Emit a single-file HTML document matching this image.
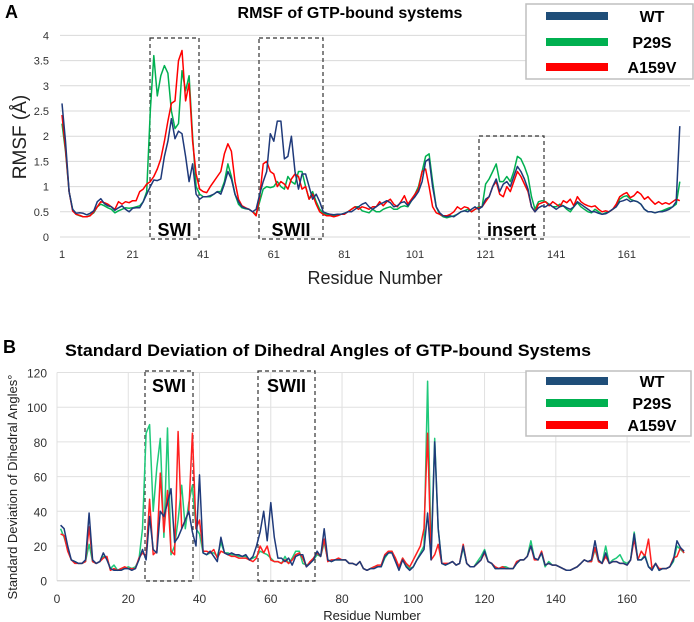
<!DOCTYPE html>
<html><head><meta charset="utf-8"><style>
body{margin:0;background:#fff;width:694px;height:622px;overflow:hidden;font-family:"Liberation Sans",sans-serif}
svg{display:block}
</style></head><body>
<svg id="fig" width="694" height="622" viewBox="0 0 694 622" xmlns="http://www.w3.org/2000/svg" font-family="Liberation Sans, sans-serif">
<g id="panelA"></g>
<g id="panelB"></g>
</svg>
<script>
// ---------- Panel A data ----------
const rmsfTicks = [0,0.5,1,1.5,2,2.5,3,3.5,4];
const rmsfTickLabels = ["0","0.5","1","1.5","2","2.5","3","3.5","4"];
const rmsfXTicks = [1,21,41,61,81,101,121,141,161];
const rmsfWT = [2.65,1.9,0.9,0.55,0.47,0.48,0.47,0.44,0.47,0.52,
0.7,0.76,0.66,0.62,0.6,0.53,0.58,0.62,0.55,0.5,
0.57,0.58,0.58,0.7,0.85,1.0,1.13,1.12,1.15,1.6,
1.9,2.35,1.95,2.1,2.05,1.6,1.1,1.45,0.85,0.75,
0.8,0.8,0.82,0.85,0.9,0.85,1.05,1.3,1.15,0.85,
0.7,0.6,0.57,0.55,0.5,0.55,0.85,1.1,1.3,2.05,
1.9,2.3,2.3,1.55,1.6,2.0,1.3,0.95,1.25,1.25,
1.0,0.75,0.85,0.7,0.5,0.47,0.45,0.44,0.45,0.45,
0.47,0.5,0.5,0.55,0.6,0.65,0.68,0.6,0.55,0.6,
0.65,0.68,0.72,0.68,0.6,0.62,0.68,0.7,0.62,0.72,
0.8,0.9,1.1,1.5,1.55,1.0,0.6,0.48,0.42,0.4,
0.42,0.4,0.45,0.5,0.52,0.5,0.55,0.6,0.55,0.6,
0.75,0.8,1.0,1.15,0.9,1.05,1.1,1.0,1.2,1.4,
1.3,1.15,0.95,0.6,0.5,0.58,0.62,0.6,0.65,0.6,
0.55,0.6,0.62,0.58,0.55,0.6,0.7,0.65,0.6,0.55,
0.5,0.5,0.47,0.45,0.46,0.5,0.55,0.6,0.7,0.72,
0.75,0.7,0.72,0.7,0.65,0.55,0.5,0.5,0.48,0.5,
0.5,0.52,0.55,0.6,0.7,2.2];
const rmsfP29S = [2.25,1.7,0.9,0.55,0.45,0.42,0.4,0.4,0.43,0.48,
0.6,0.65,0.62,0.58,0.55,0.48,0.52,0.55,0.58,0.57,
0.58,0.6,0.62,0.7,0.9,2.5,3.6,2.8,3.2,3.4,
3.25,2.5,2.15,2.25,3.3,2.9,3.2,2.0,1.0,0.85,
0.8,0.8,0.8,0.85,0.9,0.9,1.1,1.45,1.2,0.85,
0.65,0.58,0.56,0.55,0.5,0.45,0.7,0.95,1.0,0.98,
1.0,1.1,1.0,0.95,1.2,1.1,1.05,1.3,1.3,1.0,
0.75,0.9,0.7,0.55,0.47,0.45,0.43,0.42,0.42,0.45,
0.47,0.5,0.55,0.6,0.6,0.52,0.5,0.48,0.55,0.5,
0.5,0.55,0.58,0.6,0.55,0.55,0.6,0.62,0.6,0.72,
0.85,1.0,1.3,1.6,1.65,1.1,0.6,0.45,0.4,0.38,
0.4,0.42,0.45,0.5,0.52,0.55,0.5,0.55,0.6,0.6,
1.05,1.15,1.3,1.45,1.1,1.1,1.2,1.1,1.3,1.6,
1.55,1.4,1.2,0.8,0.55,0.7,0.72,0.7,0.65,0.6,
0.6,0.65,0.62,0.55,0.5,0.6,0.68,0.6,0.55,0.5,
0.48,0.55,0.5,0.45,0.48,0.5,0.55,0.6,0.75,0.8,
0.82,0.75,0.72,0.7,0.65,0.55,0.5,0.5,0.48,0.5,
0.52,0.55,0.58,0.6,0.65,1.1];
const rmsfA159V = [2.42,1.75,0.9,0.52,0.45,0.43,0.4,0.4,0.42,0.5,
0.6,0.7,0.68,0.65,0.6,0.55,0.7,0.65,0.7,0.68,
0.72,0.72,0.9,0.95,1.05,1.1,1.2,1.35,1.55,1.9,
2.3,2.65,2.7,3.5,3.7,2.7,3.05,1.9,1.25,0.95,
0.9,0.88,1.0,1.1,1.2,1.3,1.65,1.85,1.7,1.1,
0.75,0.62,0.58,0.55,0.5,0.42,0.8,1.45,1.5,1.3,
1.25,1.0,1.1,1.05,0.95,1.15,1.25,1.2,0.95,1.0,
0.75,0.85,0.65,0.5,0.45,0.42,0.42,0.4,0.42,0.45,
0.45,0.5,0.55,0.6,0.55,0.6,0.58,0.55,0.6,0.6,
0.7,0.62,0.7,0.75,0.65,0.6,0.7,0.82,0.65,0.75,
0.85,0.95,1.3,1.35,1.0,0.6,0.48,0.45,0.42,0.42,
0.45,0.5,0.6,0.55,0.6,0.58,0.5,0.55,0.58,0.6,
0.7,0.8,1.0,1.1,0.85,0.8,1.0,0.9,1.1,1.3,
1.2,1.05,0.9,0.6,0.5,0.65,0.68,0.7,0.62,0.7,
0.65,0.6,0.72,0.68,0.75,0.62,0.8,0.7,0.65,0.62,
0.6,0.62,0.55,0.5,0.52,0.5,0.55,0.65,0.8,0.85,
0.88,0.78,0.82,0.9,0.85,0.75,0.8,0.72,0.65,0.7,
0.65,0.68,0.65,0.7,0.75,0.72];

// ---------- Panel B data ----------
const sdTicks = [0,20,40,60,80,100,120];
const sdXTicks = [0,20,40,60,80,100,120,140,160];
const sdWT = [32,30,20,12,11,10,10,12,39,12,
10,11,16,12,7,6,6,6,7,7,
6,7,12,18,12,37,18,16,40,37,
45,53,22,25,30,35,40,28,20,61,
16,15,17,14,11,25,16,15,16,15,
15,14,15,12,14,20,28,40,23,45,
25,13,13,11,13,9,14,15,15,8,
10,12,17,14,30,12,11,12,12,12,
12,10,10,9,11,7,6,7,7,8,
8,14,16,16,11,6,12,8,6,8,
12,15,18,39,12,80,30,10,9,10,
11,9,10,20,10,8,8,10,12,17,
11,10,7,7,7,7,7,7,10,12,
12,14,20,13,12,16,9,10,9,9,
8,7,6,6,7,8,10,12,11,12,
23,12,10,16,10,11,11,10,10,9,
12,27,12,12,14,8,6,10,6,7,
7,8,12,23,19,17];
const sdP29S = [30,25,18,12,11,10,10,11,21,11,
10,11,14,13,7,9,6,7,7,8,
7,8,12,30,85,90,40,65,82,25,
88,15,20,35,55,30,45,55,30,27,
16,15,16,16,14,22,16,16,15,15,
14,14,14,12,13,14,17,16,15,13,
11,11,10,14,10,13,17,17,10,9,
10,12,15,14,22,12,11,12,12,12,
12,10,10,9,11,7,6,7,8,8,
8,13,16,17,12,7,13,9,7,8,
12,16,20,115,15,82,30,10,9,10,
11,9,10,19,10,8,8,11,14,18,
11,10,7,7,8,8,7,7,10,12,
12,14,23,13,12,16,8,11,9,9,
8,7,6,6,7,8,10,12,11,11,
18,11,10,20,10,12,13,15,11,10,
12,28,12,12,15,8,7,10,6,7,
7,8,11,20,18,16];
const sdA159V = [27,26,17,12,10,10,10,11,31,11,
10,11,13,14,6,7,6,7,8,7,
7,7,13,16,14,47,15,17,62,28,
52,17,15,86,30,35,40,85,30,35,
17,17,16,18,13,17,16,15,14,14,
13,13,13,12,11,13,20,16,20,12,
11,11,10,12,10,12,15,16,13,8,
11,13,16,14,24,11,12,12,13,12,
12,10,10,9,11,7,6,7,8,9,
9,15,17,17,13,8,13,10,8,12,
16,20,30,85,12,15,21,10,10,10,
11,9,10,21,10,8,8,10,12,16,
11,10,8,7,8,7,7,7,11,12,
12,14,20,12,12,17,9,10,9,9,
8,7,6,6,7,8,10,12,11,11,
19,11,10,14,10,11,11,10,10,9,
12,24,12,17,14,24,7,10,7,7,
7,8,13,14,19,16];

const NS="http://www.w3.org/2000/svg";
function mk(parent, tag, attrs, text){
  const e=document.createElementNS(NS,tag);
  for(const k in attrs) e.setAttribute(k,attrs[k]);
  if(text!==undefined) e.textContent=text;
  parent.appendChild(e); return e;
}
const A=document.getElementById('panelA');
const B=document.getElementById('panelB');

// ---------- Panel A ----------
const ax = r => 62 + (r-1)*3.53;
const ay = v => 237 - v*50.4;
let t;
t=mk(A,'text',{x:5,y:18,'font-size':18,'font-weight':'bold'},'A');


t=mk(A,'text',{x:350,y:18,'font-size':16,'font-weight':'bold','text-anchor':'middle'},'RMSF of GTP-bound systems');


rmsfTicks.forEach((v,i)=>{
  const g=mk(A,'line',{x1:60,x2:690,y1:ay(v),y2:ay(v),stroke:'#d9d9d9','stroke-width':1});
  
  
  const l=mk(A,'text',{x:49,y:ay(v)+4,'font-size':11,'text-anchor':'end',fill:'#333'},rmsfTickLabels[i]);
  
  
});
rmsfXTicks.forEach(r=>{
  const l=mk(A,'text',{x:ax(r),y:258,'font-size':11,'text-anchor':'middle',fill:'#333'},String(r));
  
  
});
t=mk(A,'text',{x:375,y:284,'font-size':18,'text-anchor':'middle',fill:'#222'},'Residue  Number');


t=mk(A,'text',{x:0,y:0,'font-size':19,'text-anchor':'middle',fill:'#222',transform:'translate(26,137) rotate(-90)'},'RMSF (Å)');



function region(parent,x1,x2,y1,y2,label,ly,name){
  const r=mk(parent,'rect',{x:x1,y:y1,width:x2-x1,height:y2-y1,fill:'none',stroke:'#333','stroke-width':1.2,'stroke-dasharray':'4,3'});
  
  
  const l=mk(parent,'text',{x:(x1+x2)/2,y:ly,'font-size':18,'font-weight':'bold','text-anchor':'middle'},label);
  
  
}
region(A,150,199,38,239,'SWI',236,'a-swi');
region(A,259,323,38,239,'SWII',236,'a-swii');
region(A,479,544,136,239,'insert',236,'a-insert');

function series(parent,data,xf,yf,color,start,name){
  const pts=data.map((v,i)=>xf(i+start).toFixed(1)+','+yf(v).toFixed(1)).join(' ');
  const p=mk(parent,'polyline',{points:pts,fill:'none',stroke:color,'stroke-width':1.5,'stroke-linejoin':'round'});
  
  
}
series(A,rmsfP29S,ax,ay,'#00b050',1,'a-line-p29s');
series(A,rmsfA159V,ax,ay,'#ff0000',1,'a-line-a159v');
series(A,rmsfWT,ax,ay,'#1f3a7a',1,'a-line-wt');

function legend(parent,x,y,w,h,rows,name){
  const g=mk(parent,'g',{});
  
  
  const r=mk(g,'rect',{x:x,y:y,width:w,height:h,fill:'#fff',stroke:'#bfbfbf','stroke-width':1.5});
  
  
  rows.forEach(rw=>{
    const s=mk(g,'rect',{x:x+20,y:rw[2]-4,width:62,height:8,fill:rw[1]});
    
    
    const l=mk(g,'text',{x:x+126,y:rw[2]+6,'font-size':16,'font-weight':'bold','text-anchor':'middle'},rw[0]);
    
    
  });
}
legend(A,526,4,167,75,[['WT','#1f4e79',16],['P29S','#00b050',42],['A159V','#ff0000',67]],'a-legend');

// ---------- Panel B ----------
const bx = r => 57 + r*3.563;
const by = v => 580.7 - v*1.735;
t=mk(B,'text',{x:3,y:353,'font-size':18,'font-weight':'bold'},'B');


t=mk(B,'text',{x:65,y:356,'font-size':17,'font-weight':'bold',textLength:526,lengthAdjust:'spacingAndGlyphs'},'Standard Deviation of Dihedral Angles of GTP-bound Systems');


sdTicks.forEach(v=>{
  const g=mk(B,'line',{x1:57,x2:690,y1:by(v),y2:by(v),stroke:'#e0e0e0','stroke-width':1});
  
  
  const l=mk(B,'text',{x:47,y:by(v)+5,'font-size':12,'text-anchor':'end',fill:'#333'},String(v));
  
  
});
sdXTicks.forEach(r=>{
  const g=mk(B,'line',{x1:bx(r),x2:bx(r),y1:by(120),y2:by(0),stroke:'#e0e0e0','stroke-width':1});
  
  
  const l=mk(B,'text',{x:bx(r),y:603,'font-size':12,'text-anchor':'middle',fill:'#333'},String(r));
  
  
});
t=mk(B,'line',{x1:57,x2:690,y1:by(0),y2:by(0),stroke:'#d0d0d0','stroke-width':1});


t=mk(B,'text',{x:372,y:620,'font-size':13,'text-anchor':'middle',fill:'#222'},'Residue Number');


t=mk(B,'text',{x:0,y:0,'font-size':13,'text-anchor':'middle',fill:'#222',transform:'translate(17,487) rotate(-90)'},'Standard Deviation of Dihedral Angles°');


region(B,145,193,371,581,'SWI',392,'b-swi');
region(B,258,315,371,581,'SWII',392,'b-swii');
series(B,sdP29S,bx,by,'#1fc97a',1,'b-line-p29s');
series(B,sdA159V,bx,by,'#ff2020',1,'b-line-a159v');
series(B,sdWT,bx,by,'#1f3a7a',1,'b-line-wt');
legend(B,526,371,165,65,[['WT','#1f4e79',381],['P29S','#00b050',403],['A159V','#ff0000',425]],'b-legend');
</script>
</body></html>
